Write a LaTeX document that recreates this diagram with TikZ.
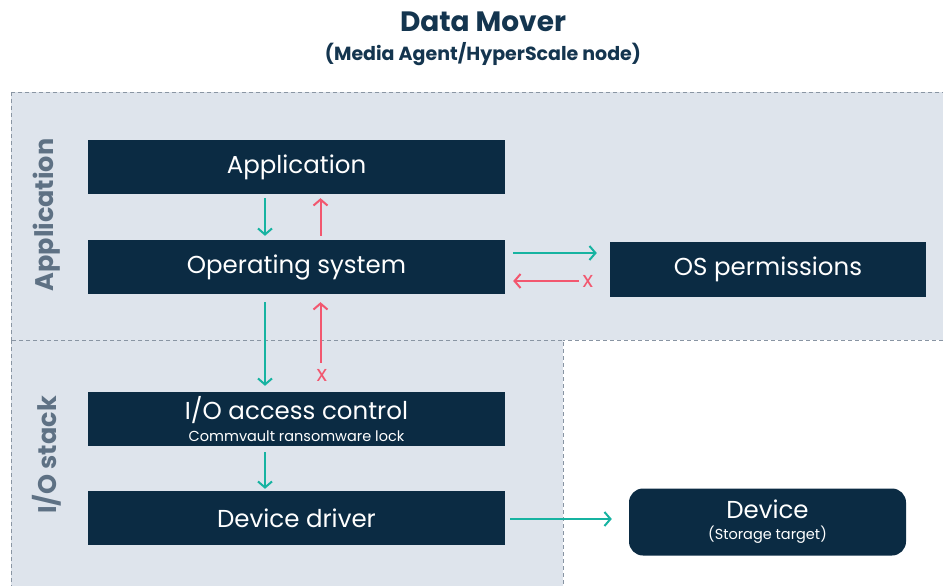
\documentclass[tikz,border=0pt]{standalone}
\usepackage{fontspec}
\setmainfont{Poppins}
\usetikzlibrary{arrows.meta}
\definecolor{boxNavy}{HTML}{0B2B43}
\definecolor{zoneFill}{HTML}{DEE4EC}
\definecolor{zoneLine}{HTML}{8995A3}
\definecolor{zoneText}{HTML}{5E7184}
\definecolor{titleNavy}{HTML}{14354F}
\definecolor{okTeal}{HTML}{17B3A1}
\definecolor{denyRed}{HTML}{F2576F}
\begin{document}
\begin{tikzpicture}
[x=1pt,y=-1pt,%
  layerBox/.style={fill=boxNavy,text=white,minimum width=417pt,minimum height=54pt,inner sep=0pt,align=center,font=\fontsize{24.5}{26}\selectfont},%
  zone/.style={fill=zoneFill,draw=zoneLine,dash pattern=on 4pt off 3pt,line width=0.8pt},%
  zoneLabel/.style={rotate=90,text=zoneText,font=\bfseries\fontsize{25.5}{28}\selectfont},%
  okArrow/.style={-{Straight Barb[length=6pt,width=14pt]},line width=2pt,color=okTeal},%
  denyArrow/.style={-{Straight Barb[length=6pt,width=14pt]},line width=2pt,color=denyRed},%
  denyMark/.style={text=denyRed,inner sep=0pt,font=\fontsize{22}{24}\selectfont},%
  smallText/.style={font=\fontsize{14.5}{16}\selectfont}]
\useasboundingbox (0,0) rectangle (943,586);
%% zones
\path[zone] (11,92) rectangle (948,340);
\path[zone] (11,340) rectangle (563,592);
\node (appZone) at (47,215) [zoneLabel] {Application};
\node (ioZone) at (47,455) [zoneLabel] {I/O stack};
%% title
\node (title) at (483,22) [text=titleNavy,font=\bfseries\fontsize{28}{30}\selectfont] {Data Mover};
\node (subtitle) at (483,54) [text=titleNavy,font=\bfseries\fontsize{19}{21}\selectfont] {(Media Agent/HyperScale node)};
%% boxes
\foreach \nodename/\y/\boxtext in {app/167/Application, os/267/Operating system, drv/518/Device driver}
{
  \node (\nodename) at (296.5,\y) [layerBox] {\boxtext};
}
\node (io) at (296.5,419) [layerBox] {I/O access control\\[-4pt]{\fontsize{14.5}{16}\selectfont Commvault ransomware lock}};
\node (perm) at (768,269.5) [layerBox,minimum width=316pt,minimum height=55pt] {OS permissions};
\node (dev) at (767.5,522) [layerBox,minimum width=277pt,minimum height=67pt,rounded corners=14pt] {Device\\[-5pt]{\fontsize{14.5}{16}\selectfont (Storage target)}};
%% deny marks
\node (xio) at (322,375) [denyMark] {x};
\node (xperm) at (588,281) [denyMark] {x};
\coordinate (downX) at (265,0);
\coordinate (upX) at (320.5,0);
\coordinate (okY) at (0,253);
\coordinate (devY) at (0,519);
%% allowed arrows
\draw[okArrow,shorten <=4pt,shorten >=4pt] (app.south -| downX) -- (os.north -| downX);
\draw[okArrow,shorten <=8pt,shorten >=6pt] (os.south -| downX) -- (io.north -| downX);
\draw[okArrow,shorten <=6pt,shorten >=2pt] (io.south -| downX) -- (drv.north -| downX);
\draw[okArrow,shorten <=8pt,shorten >=13pt] (os.east |- okY) -- (perm.west |- okY);
\draw[okArrow,shorten <=5pt,shorten >=17pt] (drv.east |- devY) -- (dev.west |- devY);
%% denied arrows
\draw[denyArrow,shorten <=4pt,shorten >=4pt] (os.north -| upX) -- (app.south -| upX);
\draw[denyArrow,shorten <=6pt,shorten >=8pt] (xio.north -| upX) -- (os.south -| upX);
\draw[denyArrow,shorten <=4pt,shorten >=8pt] (xperm.west) -- (os.east |- xperm);
\end{tikzpicture}
\end{document}
